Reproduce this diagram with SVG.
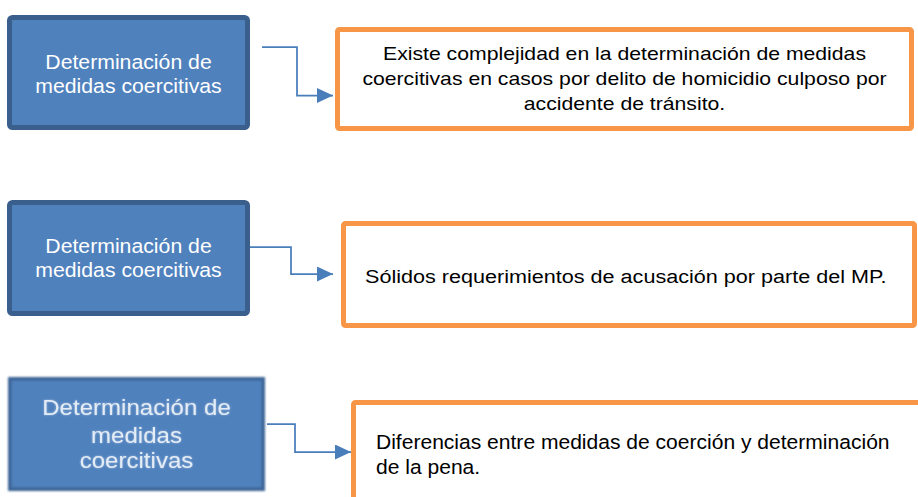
<svg xmlns="http://www.w3.org/2000/svg" width="918" height="497" viewBox="0 0 918 497">
<defs>
<style>
.blue{fill:#4F81BD;stroke:#3A5F8D;stroke-width:5}
.orange{fill:#FFFFFF;stroke:#F79646;stroke-width:5}
.wt{font-family:"Liberation Sans",Arial,sans-serif;font-size:19.5px;fill:#FFFFFF;text-anchor:middle}
.wt3{font-family:"Liberation Sans",Arial,sans-serif;font-size:21.5px;fill:#E4ECF6;text-anchor:middle}
.bt{font-family:"Liberation Sans",Arial,sans-serif;fill:#000000}
.conn{fill:none;stroke:#4A7EBB;stroke-width:1.75}
</style>
<marker id="arr" markerUnits="userSpaceOnUse" markerWidth="16" markerHeight="16" refX="16" refY="7.5" orient="auto">
<path d="M0,0 L16,7.5 L0,15 Z" fill="#4A7EBB"/>
</marker>
<filter id="soft" x="-10%" y="-10%" width="120%" height="120%">
<feGaussianBlur stdDeviation="1.3"/>
</filter>
<filter id="glow" x="-10%" y="-30%" width="120%" height="160%">
<feGaussianBlur in="SourceAlpha" stdDeviation="0.9" result="b"/>
<feFlood flood-color="#EAF1FA" flood-opacity="0.5"/>
<feComposite in2="b" operator="in" result="g"/>
<feMerge><feMergeNode in="g"/><feMergeNode in="SourceGraphic"/></feMerge>
</filter>
</defs>

<g id="connectors">
<path class="conn" d="M262,47 H297 V95.5 H333" marker-end="url(#arr)"/>
<path class="conn" d="M250,247 H291 V274 H333" marker-end="url(#arr)"/>
<path class="conn" d="M267,424 H295 V452 H351" marker-end="url(#arr)"/>
</g>

<g id="node-blue-1">
<rect class="blue" x="9.5" y="17.5" width="238" height="110" rx="3"/>
<text class="wt" transform="translate(128.5,69) scale(1.09,1)">Determinación de</text>
<text class="wt" transform="translate(128.5,93) scale(1.09,1)">medidas coercitivas</text>
</g>

<g id="node-orange-1">
<rect class="orange" x="337.5" y="29.5" width="574" height="99" rx="2"/>
<text class="bt" font-size="18" text-anchor="middle" transform="translate(624.5,60) scale(1.178,1)">Existe complejidad en la determinación de medidas</text>
<text class="bt" font-size="18" text-anchor="middle" transform="translate(624.5,85) scale(1.178,1)">coercitivas en casos por delito de homicidio culposo por</text>
<text class="bt" font-size="18" text-anchor="middle" transform="translate(624.5,110) scale(1.178,1)">accidente de tránsito.</text>
</g>

<g id="node-blue-2">
<rect class="blue" x="9.5" y="202.5" width="238" height="111" rx="3"/>
<text class="wt" transform="translate(128.5,253) scale(1.09,1)">Determinación de</text>
<text class="wt" transform="translate(128.5,277) scale(1.09,1)">medidas coercitivas</text>
</g>

<g id="node-orange-2">
<rect class="orange" x="343.5" y="223.5" width="571" height="102" rx="2"/>
<text class="bt" font-size="19" transform="translate(365,283) scale(1.137,1)">Sólidos requerimientos de acusación por parte del MP.</text>
</g>

<g id="node-blue-3">
<rect x="8" y="377" width="257" height="114" fill="#3E6596" filter="url(#soft)"/>
<rect x="11.5" y="380.5" width="250" height="107" fill="#4F81BD" filter="url(#soft)"/>
<g filter="url(#glow)">
<text class="wt3" transform="translate(136.5,415) scale(1.12,1)">Determinación de</text>
<text class="wt3" transform="translate(136.5,443) scale(1.12,1)">medidas</text>
<text class="wt3" transform="translate(136.5,468) scale(1.12,1)">coercitivas</text>
</g>
</g>

<g id="node-orange-3">
<rect class="orange" x="353.5" y="402.5" width="600" height="130" rx="2"/>
<text class="bt" font-size="19.5" transform="translate(376,449) scale(1.08,1)">Diferencias entre medidas de coerción y determinación</text>
<text class="bt" font-size="19.5" transform="translate(376,474) scale(1.08,1)">de la pena.</text>
</g>
</svg>
